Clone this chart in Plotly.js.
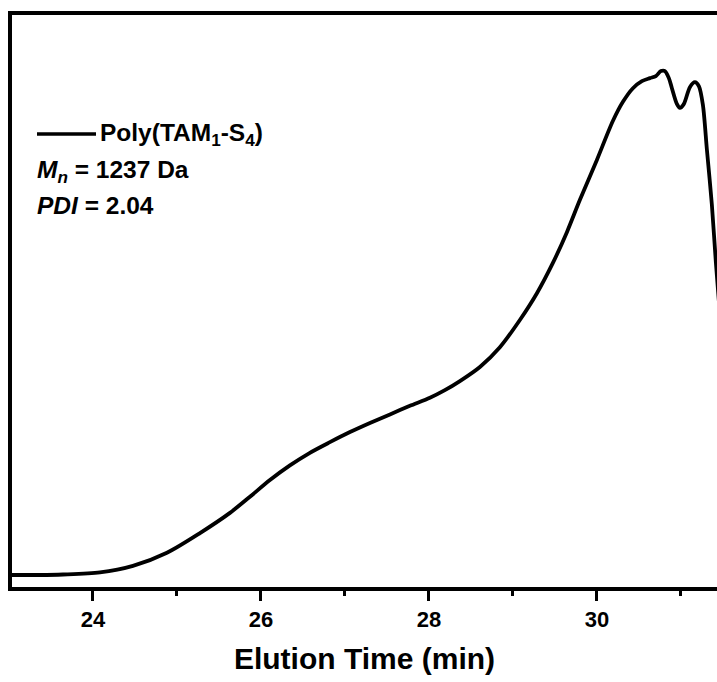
<!DOCTYPE html>
<html>
<head>
<meta charset="utf-8">
<script src="https://cdn.plot.ly/plotly-3.0.1.min.js"></script>
<style>html,body{margin:0;padding:0;background:#fff;}#chart{width:717px;height:682px;}</style>
</head>
<body>
<div id="chart"></div>
<script>
// Elution time (min)
const elutionTime = [23.012, 23.369, 23.643, 24.083, 24.476, 24.881, 25.274, 25.631, 25.869, 26.107,
  26.345, 26.583, 26.821, 27.060, 27.298, 27.536, 27.774, 28.012, 28.190, 28.369,
  28.607, 28.845, 29.083, 29.286, 29.476, 29.643, 29.798, 30.000, 30.190, 30.310,
  30.429, 30.536, 30.631, 30.702, 30.762, 30.810, 30.857, 30.893, 30.952, 30.988,
  31.036, 31.107, 31.167, 31.214, 31.262, 31.310, 31.369, 31.417, 31.488];
// Normalised detector signal
const signal = [0.000, 0.000, 0.001, 0.005, 0.018, 0.044, 0.083, 0.123, 0.155, 0.188,
  0.217, 0.242, 0.263, 0.283, 0.301, 0.318, 0.335, 0.351, 0.366, 0.384,
  0.412, 0.451, 0.505, 0.558, 0.618, 0.679, 0.743, 0.822, 0.899, 0.937,
  0.964, 0.978, 0.984, 0.988, 0.998, 0.998, 0.984, 0.964, 0.933, 0.925,
  0.933, 0.966, 0.976, 0.968, 0.931, 0.842, 0.733, 0.618, 0.465];
const seriesName = 'Poly(TAM<sub>1</sub>-S<sub>4</sub>)';
const infoLines = ['<i>M</i><sub><i>n</i></sub> = 1237 Da', '<i>PDI</i> = 2.04'];
const xTitle = 'Elution Time (min)';

const W = 717, H = 682;
const L = 12, R = 0, T = 15, B = 95;
const pw = W - L - R, ph = H - T - B;
const px = v => (v - L) / pw;
const py = v => (H - B - v) / ph;

const font = {family: '"Liberation Sans", Arial, sans-serif', color: '#000', weight: 'bold'};

const trace = {
  x: elutionTime, y: signal, type: 'scatter', mode: 'lines',
  line: {color: '#000', width: 3.8, shape: 'spline', smoothing: 0.8},
  name: seriesName, showlegend: false, hoverinfo: 'skip'
};

const layout = {
  width: W, height: H,
  margin: {l: L, r: R, t: T, b: B, pad: 0},
  paper_bgcolor: '#fff', plot_bgcolor: '#fff',
  showlegend: false,
  xaxis: {
    range: [23.036, 31.43], showgrid: false, zeroline: false,
    showline: true, linecolor: '#000', linewidth: 4, mirror: true,
    ticks: 'outside', ticklen: 10, tickwidth: 3, tickcolor: '#000',
    tick0: 24, dtick: 2,
    minor: {ticks: 'outside', ticklen: 5, tickwidth: 3, tickcolor: '#000', dtick: 1, tick0: 23, showgrid: false},
    tickfont: Object.assign({}, font, {size: 22}),
    title: {text: xTitle, font: Object.assign({}, font, {size: 30}), standoff: 18},
    automargin: false
  },
  yaxis: {
    range: [-0.0238, 1.109], showgrid: false, zeroline: false,
    showline: true, linecolor: '#000', linewidth: 4, mirror: false,
    showticklabels: false, ticks: '', automargin: false
  },
  shapes: [{
    type: 'line', xref: 'paper', yref: 'paper',
    x0: px(37), x1: px(96), y0: py(134), y1: py(134),
    line: {color: '#000', width: 3.5}
  }],
  annotations: [
    {xref: 'paper', yref: 'paper', x: px(98), y: py(134), xanchor: 'left', yanchor: 'middle',
     text: seriesName, showarrow: false, font: Object.assign({}, font, {size: 24.5})},
    {xref: 'paper', yref: 'paper', x: px(35), y: py(171), xanchor: 'left', yanchor: 'middle',
     text: infoLines[0], showarrow: false, font: Object.assign({}, font, {size: 24.5})},
    {xref: 'paper', yref: 'paper', x: px(35), y: py(205), xanchor: 'left', yanchor: 'middle',
     text: infoLines[1], showarrow: false, font: Object.assign({}, font, {size: 24.5})}
  ]
};

Plotly.newPlot('chart', [trace], layout, {staticPlot: true, displayModeBar: false});
</script>
</body>
</html>
